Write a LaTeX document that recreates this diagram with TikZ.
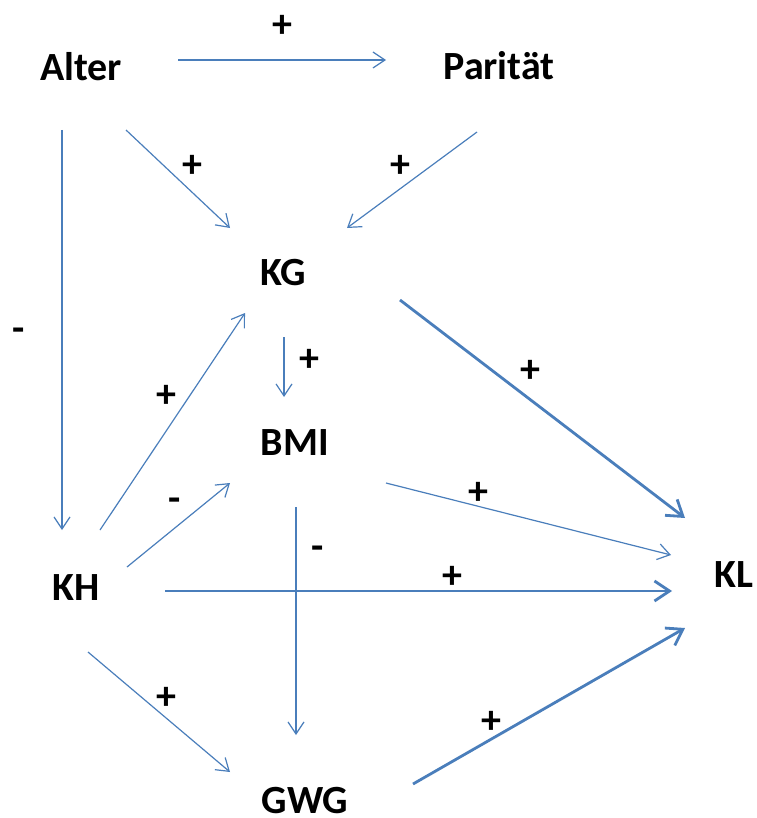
\documentclass[tikz,border=0pt]{standalone}
\usepackage{fontspec}
\setmainfont{Carlito}
\usetikzlibrary{arrows.meta}
\definecolor{linkblue}{HTML}{4A7EBB}
\tikzset{
  x=1pt, y=-1pt,
  var/.style={anchor=base, inner sep=0pt, font=\fontsize{40}{48}\selectfont\bfseries},
  sign/.style={inner sep=0pt, font=\fontsize{40}{48}\selectfont\bfseries},
  thinlink/.style={draw=linkblue, line width=1.2pt,
    -{Straight Barb[length=12pt, width=16pt, line width=1.2pt]}},
  thicklink/.style={draw=linkblue, line width=2.8pt,
    -{Straight Barb[length=15pt, width=20pt, line width=2.8pt]}}
}
\begin{document}
\begin{tikzpicture}
\useasboundingbox (0,0) rectangle (756,818);

% variables
\node[var] (alter)   at (81,81)  {Alter};
\node[var] (paritat) at (499,80) {Parität};
\node[var] (kg)      at (283,285) {KG};
\node[var] (bmi)     at (295,455) {BMI};
\node[var] (kh)      at (76,600) {KH};
\node[var] (kl)      at (734,587) {KL};
\node[var] (gwg)     at (305,813) {GWG};

% links (thin)
\draw[thinlink] ([shift={(97,-21)}]alter.base) -- ([shift={(-113,-20)}]paritat.base)
  node[sign, pos=0.5, above=22pt] (s1) {+};
\draw[thinlink] ([shift={(45,49)}]alter.base) -- ([shift={(-53,-57)}]kg.base);
\draw[thinlink] ([shift={(-22,52)}]paritat.base) -- ([shift={(64,-57)}]kg.base);
\draw[thinlink] ([shift={(-19,49)}]alter.base) -- ([shift={(-14,-70)}]kh.base);
\draw[thinlink] ([shift={(1,52)}]kg.base) -- ([shift={(1,112)}]kg.base);
\draw[thinlink] ([shift={(24,-70)}]kh.base) -- ([shift={(-38,28)}]kg.base);
\draw[thinlink] ([shift={(51,-33)}]kh.base) -- ([shift={(-65,28)}]bmi.base);
\draw[thinlink] ([shift={(91,28)}]bmi.base) -- ([shift={(-63,-32)}]kl.base);
\draw[thinlink] ([shift={(1,52)}]bmi.base) -- ([shift={(-9,-78)}]gwg.base);
\draw[thinlink] ([shift={(12,52)}]kh.base) -- ([shift={(-75,-41)}]gwg.base);

% links (thick)
\draw[thicklink] ([shift={(117,15)}]kg.base) -- ([shift={(-49,-69)}]kl.base);
\draw[thicklink] ([shift={(89,-9)}]kh.base) -- ([shift={(-62,4)}]kl.base);
\draw[thicklink] ([shift={(108,-29)}]gwg.base) -- ([shift={(-49,41)}]kl.base);

% signs
\node[sign] (s2)  at (192,166) {+};
\node[sign] (s3)  at (400,166) {+};
\node[sign] (s4)  at (19,335)  {-};
\node[sign] (s5)  at (309,360) {+};
\node[sign] (s6)  at (530,371) {+};
\node[sign] (s7)  at (166,396) {+};
\node[sign] (s8)  at (175,505) {-};
\node[sign] (s9)  at (478,493) {+};
\node[sign] (s10) at (452,577) {+};
\node[sign] (s11) at (318,553) {-};
\node[sign] (s12) at (166,698) {+};
\node[sign] (s13) at (491,722) {+};
\end{tikzpicture}
\end{document}
